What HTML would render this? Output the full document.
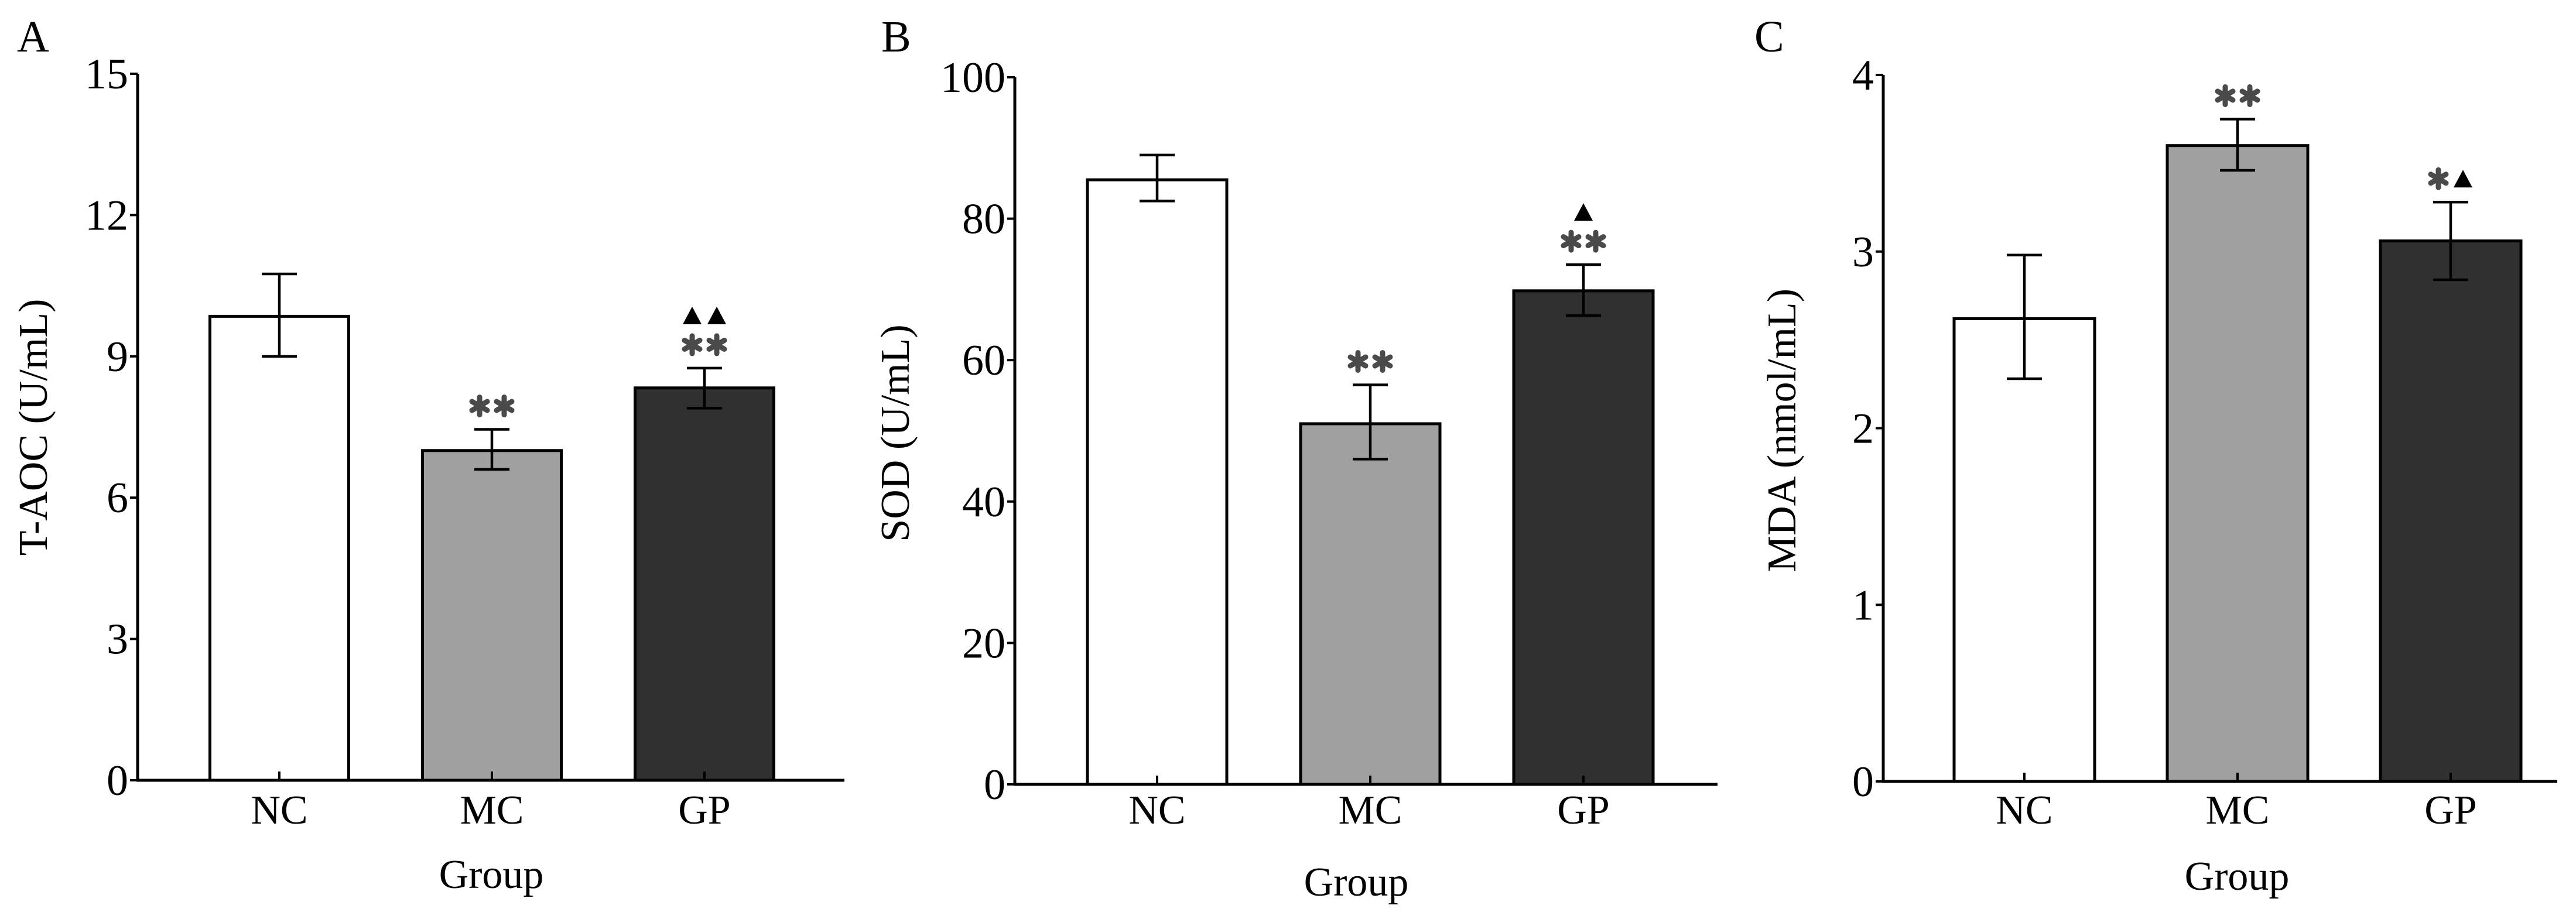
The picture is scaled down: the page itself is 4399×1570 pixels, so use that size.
<!DOCTYPE html>
<html><head><meta charset="utf-8"><style>
html,body{margin:0;padding:0;background:#fff}
svg{display:block}
text{font-family:"Liberation Serif",serif;fill:#000}
</style></head><body>
<svg id="fig" width="4399" height="1570" viewBox="0 0 4399 1570"></svg>
<script>
const categories = ["NC","MC","GP"];
const valuesA = [9.85, 7.0, 8.33];
const errHiA = [10.75, 7.45, 8.75];
const errLoA = [9.0, 6.6, 7.9];
const ticksA = [0,3,6,9,12,15];
const marksA = [[], ["**"], ["**","▲▲"]];

const valuesB = [85.5, 51.0, 69.8];
const errHiB = [89.0, 56.5, 73.5];
const errLoB = [82.5, 46.0, 66.3];
const ticksB = [0,20,40,60,80,100];
const marksB = [[], ["**"], ["**","▲"]];

const valuesC = [2.62, 3.60, 3.06];
const errHiC = [2.98, 3.75, 3.28];
const errLoC = [2.28, 3.46, 2.84];
const ticksC = [0,1,2,3,4];
const marksC = [[], ["**"], ["*▲"]];

const colors = ["#ffffff","#a0a0a0","#303030"];
const NS = "http://www.w3.org/2000/svg";
const svg = document.getElementById("fig");
function el(tag, attrs, parent){const e=document.createElementNS(NS,tag);for(const k in attrs)e.setAttribute(k,attrs[k]);(parent||svg).appendChild(e);return e;}

function drawStar(g,cx,cy){
  for(let i=0;i<3;i++){const a=Math.PI/2+i*Math.PI/3;const r=15;
    const l=el("line",{x1:cx-r*Math.cos(a),y1:cy-r*Math.sin(a),x2:cx+r*Math.cos(a),y2:cy+r*Math.sin(a),stroke:"#4a4a4a","stroke-width":9,"stroke-linecap":"round"},g);
    
    }
}
function drawTri(g,cx,cy){
  const p=el("polygon",{points:`${cx-16},${cy+15} ${cx+16},${cy+15} ${cx},${cy-15}`,fill:"#000"},g);
  
  
}

function panel(cfg){
  const g=el("g",{});
  
  
  const {ax,xEnd,yTop,y0,max,slot0,slotW,barW}=cfg;
  const y=v=>y0-(v/max)*(y0-yTop);
  const xc=i=>slot0+i*slotW;
  const L=el("text",{x:cfg.letterX,y:88,"font-size":76},g);L.textContent=cfg.letter;
  
  
  cfg.ticks.forEach(t=>{
    const tl=el("line",{x1:ax-13,x2:ax,y1:y(t),y2:y(t),stroke:"#000","stroke-width":4},g);
    
    
    const tx=el("text",{x:ax-16,y:y(t)+25,"font-size":74,"text-anchor":"end"},g);tx.textContent=t;
    
    
  });
  categories.forEach((c,i)=>{
    const v=cfg.values[i];
    const r=el("rect",{x:xc(i)-barW/2,y:y(v),width:barW,height:y0-y(v),fill:colors[i],stroke:"#000","stroke-width":5},g);
    
    
    const t=el("line",{x1:xc(i),x2:xc(i),y1:y0-15,y2:y0,stroke:"#000","stroke-width":4},g);
    
    
    const eg=el("g",{stroke:"#000","stroke-width":4.5},g);
    
    
    el("line",{x1:xc(i),x2:xc(i),y1:y(cfg.hi[i]),y2:y(cfg.lo[i])},eg);
    el("line",{x1:xc(i)-30,x2:xc(i)+30,y1:y(cfg.hi[i]),y2:y(cfg.hi[i])},eg);
    el("line",{x1:xc(i)-30,x2:xc(i)+30,y1:y(cfg.lo[i]),y2:y(cfg.lo[i])},eg);
    const cl=el("text",{x:xc(i),y:1407,"font-size":70,"text-anchor":"middle"},g);cl.textContent=c;
    
    
    let my=y(cfg.hi[i])-40;
    cfg.marks[i].forEach(m=>{
      const chars=[...m];const n=chars.length;
      chars.forEach((ch,k)=>{
        const cx=xc(i)+(k-(n-1)/2)*42;
        if(ch==="*")drawStar(g,cx,my);else drawTri(g,cx,my);
      });
      my-=50;
    });
  });
  const ya=el("line",{x1:ax,x2:ax,y1:yTop,y2:y0+2,stroke:"#000","stroke-width":5},g);
  
  
  const xa=el("line",{x1:ax-2,x2:xEnd,y1:y0,y2:y0,stroke:"#000","stroke-width":5},g);
  
  
  const yt=el("text",{x:0,y:0,"font-size":70,"text-anchor":"middle",transform:`translate(${cfg.ylabX},${cfg.ylabY}) rotate(-90)`},g);
  yt.textContent=cfg.ylabel;
  
  
  const xt=el("text",{x:cfg.groupX,y:cfg.groupY,"font-size":70,"text-anchor":"middle"},g);
  xt.textContent="Group";
  
  
}

panel({letter:"A",letterX:29,ax:235,xEnd:1442,yTop:126,y0:1333,max:15,slot0:477,slotW:363,barW:237,
  values:valuesA,hi:errHiA,lo:errLoA,ticks:ticksA,marks:marksA,ylabel:"T-AOC (U/mL)",ylabX:80,ylabY:730,groupX:839,groupY:1517});
panel({letter:"B",letterX:1505,ax:1733,xEnd:2933,yTop:132,y0:1340,max:100,slot0:1976,slotW:364,barW:238,
  values:valuesB,hi:errHiB,lo:errLoB,ticks:ticksB,marks:marksB,ylabel:"SOD (U/mL)",ylabX:1552,ylabY:740,groupX:2316,groupY:1530});
panel({letter:"C",letterX:2996,ax:3216,xEnd:4367,yTop:128,y0:1335,max:4,slot0:3457,slotW:364,barW:240,
  values:valuesC,hi:errHiC,lo:errLoC,ticks:ticksC,marks:marksC,ylabel:"MDA (nmol/mL)",ylabX:3066,ylabY:735,groupX:3820,groupY:1520});
</script>
</body></html>
